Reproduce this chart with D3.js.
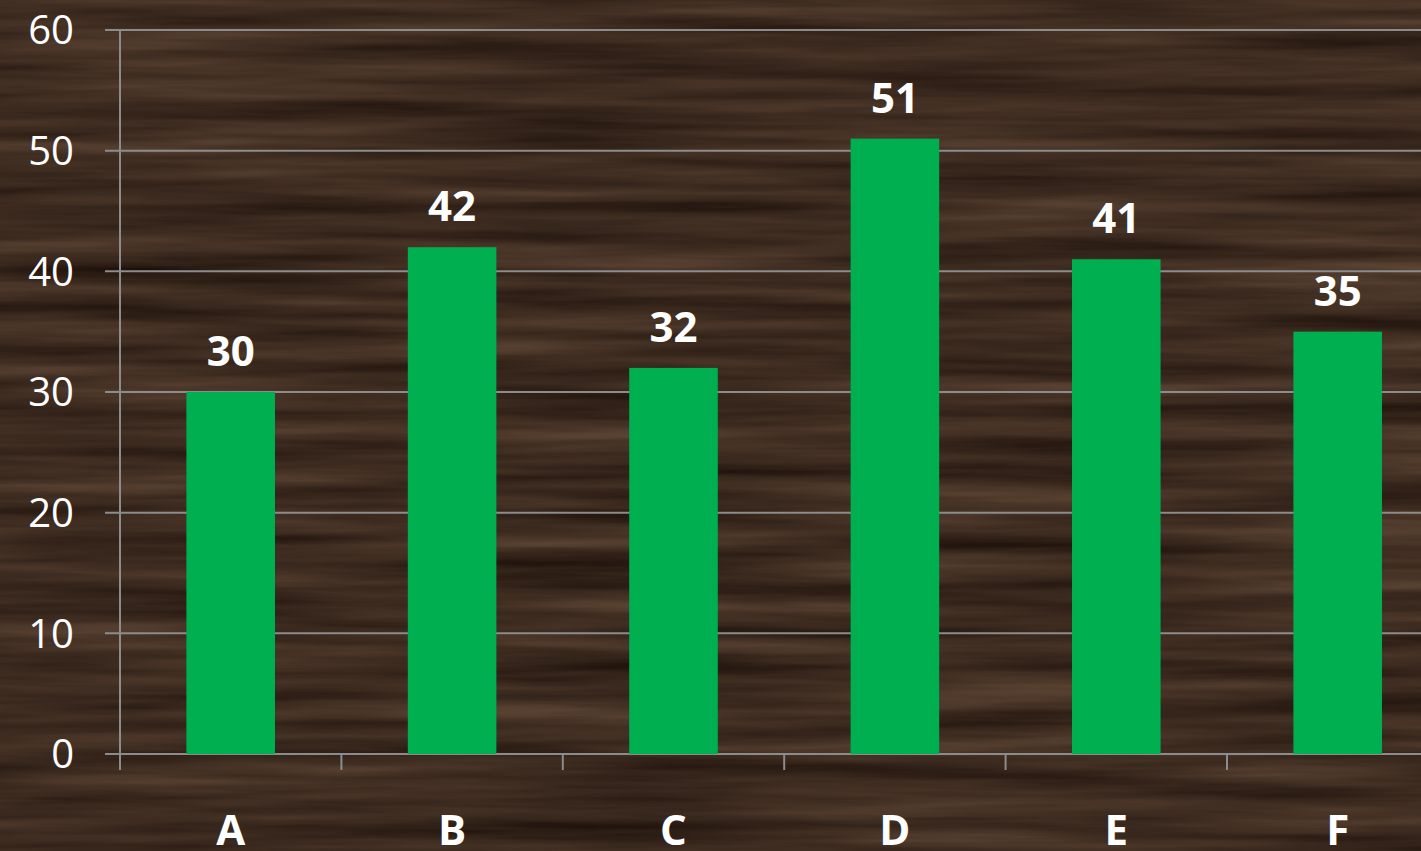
<!DOCTYPE html>
<html>
<head>
<meta charset="utf-8">
<script src="https://cdn.jsdelivr.net/npm/d3@7"></script>
<style>
  body { margin: 0; background: #3d2c20; overflow: hidden; }
  svg { display: block; }
</style>
</head>
<body>
<div id="chart"></div>
<script>
// values
const categories = ["A", "B", "C", "D", "E", "F"];
const values = [30, 42, 32, 51, 41, 35];
const yTicks = [0, 10, 20, 30, 40, 50, 60];

const W = 1421, H = 851;
const margin = { top: 30, left: 120, bottom: 97 };
const plotBottom = H - margin.bottom; // 754

const svg = d3.select("#chart")
    .append("svg")
    .attr("width", W)
    .attr("height", H);

// wood grain background (turbulence stretched horizontally, mapped to dark browns)
const defs = svg.append("defs");
const f = defs.append("filter")
    .attr("id", "wood")
    .attr("color-interpolation-filters", "sRGB")
    .attr("x", 0).attr("y", 0)
    .attr("width", "100%").attr("height", "100%");
f.append("feTurbulence")
    .attr("type", "fractalNoise")
    .attr("baseFrequency", "0.0025 0.05")
    .attr("numOctaves", 4)
    .attr("seed", 7)
    .attr("result", "noise");
f.append("feColorMatrix")
    .attr("in", "noise")
    .attr("type", "matrix")
    .attr("values",
        "0.30 0 0 0 0.09 " +
        "0.25 0 0 0 0.045 " +
        "0.20 0 0 0 0.025 " +
        "0 0 0 0 1");

svg.append("rect")
    .attr("width", W).attr("height", H)
    .attr("fill", "#3d2c20");
svg.append("rect")
    .attr("width", W).attr("height", H)
    .attr("filter", "url(#wood)");

const x = d3.scaleBand()
    .domain(categories)
    .range([margin.left, margin.left + 221.4 * 6])
    .paddingInner(0.6)
    .paddingOuter(0.3);

const y = d3.scaleLinear()
    .domain([0, 60])
    .range([plotBottom, margin.top]);

const gridColor = "#8c8c8c";

// gridlines + y ticks
svg.append("g")
    .selectAll("line")
    .data(yTicks)
    .enter()
    .append("line")
    .attr("x1", margin.left - 15)
    .attr("x2", W)
    .attr("y1", d => y(d))
    .attr("y2", d => y(d))
    .attr("stroke", gridColor)
    .attr("stroke-width", 2);

svg.append("g")
    .selectAll("text")
    .data(yTicks)
    .enter()
    .append("text")
    .attr("x", 74)
    .attr("y", d => y(d))
    .attr("dy", "0.36em")
    .attr("text-anchor", "end")
    .attr("fill", "#fff")
    .style("font-family", "'Open Sans', sans-serif")
    .style("font-size", "40px")
    .text(d => d);

// y axis line
svg.append("line")
    .attr("x1", margin.left).attr("x2", margin.left)
    .attr("y1", y(60)).attr("y2", plotBottom + 16)
    .attr("stroke", gridColor)
    .attr("stroke-width", 2);

// x tick marks at band boundaries
svg.append("g")
    .selectAll("line")
    .data(categories)
    .enter()
    .append("line")
    .attr("x1", d => x(d) - x.step() * 0.3)
    .attr("x2", d => x(d) - x.step() * 0.3)
    .attr("y1", plotBottom)
    .attr("y2", plotBottom + 16)
    .attr("stroke", gridColor)
    .attr("stroke-width", 2);

// bars
svg.append("g")
    .selectAll("rect")
    .data(values)
    .enter()
    .append("rect")
    .attr("x", (d, i) => x(categories[i]))
    .attr("y", d => y(d))
    .attr("width", x.bandwidth())
    .attr("height", d => plotBottom - y(d))
    .attr("fill", "#00b050");

// value labels
svg.append("g")
    .selectAll("text")
    .data(values)
    .enter()
    .append("text")
    .attr("x", (d, i) => x(categories[i]) + x.bandwidth() / 2)
    .attr("y", d => y(d) - 26)
    .attr("text-anchor", "middle")
    .attr("fill", "#fff")
    .style("font-family", "'Open Sans', sans-serif")
    .style("font-weight", "bold")
    .style("font-size", "42px")
    .text(d => d);

// category labels
svg.append("g")
    .selectAll("text")
    .data(categories)
    .enter()
    .append("text")
    .attr("x", d => x(d) + x.bandwidth() / 2)
    .attr("y", 845)
    .attr("text-anchor", "middle")
    .attr("fill", "#fff")
    .style("font-family", "'Open Sans', sans-serif")
    .style("font-weight", "bold")
    .style("font-size", "42px")
    .text(d => d);
</script>
</body>
</html>
